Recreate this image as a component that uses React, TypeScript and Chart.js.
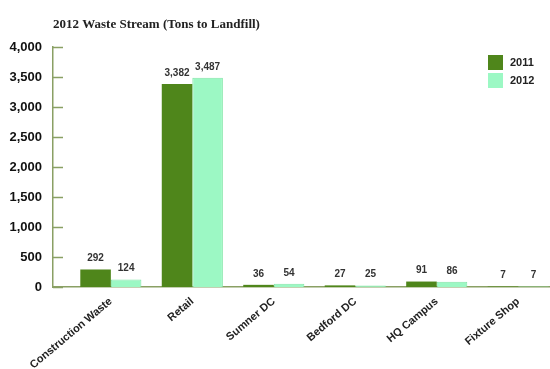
import React, { useEffect, useRef } from "react";
import { Chart, registerables } from "chart.js";

Chart.register(...registerables);

const categories = ["Construction Waste", "Retail", "Sumner DC", "Bedford DC", "HQ Campus", "Fixture Shop"];
const values2011 = [292, 3382, 36, 27, 91, 7];
const values2012 = [124, 3487, 54, 25, 86, 7];
const seriesNames = ["2011", "2012"];
const yTicks = [0, 500, 1000, 1500, 2000, 2500, 3000, 3500, 4000];

const COLOR_2011 = "#4f861b";
const COLOR_2012 = "#9cf8c4";
const AXIS_COLOR = "#8aa064";

const fmt = (v: number) => v.toLocaleString("en-US");

const overlayPlugin = {
  id: "overlay",
  afterDraw(chart: any) {
    const ctx = chart.ctx;
    const area = chart.chartArea;
    const yScale = chart.scales.y;
    ctx.save();
    // inner tick marks on y axis
    ctx.strokeStyle = AXIS_COLOR;
    ctx.lineWidth = 1.5;
    yScale.ticks.forEach((t: any) => {
      const y = Math.round(yScale.getPixelForValue(t.value)) + 0.5;
      ctx.beginPath();
      ctx.moveTo(area.left, y);
      ctx.lineTo(area.left + 10, y);
      ctx.stroke();
    });
    // value labels
    ctx.fillStyle = "#333";
    ctx.font = "bold 10px 'Liberation Sans', Arial, sans-serif";
    ctx.textAlign = "center";
    ctx.textBaseline = "bottom";
    chart.data.datasets.forEach((ds: any, di: number) => {
      const meta = chart.getDatasetMeta(di);
      meta.data.forEach((el: any, i: number) => {
        const v = ds.data[i].y;
        ctx.fillText(fmt(v), el.x, el.y - 6);
      });
    });
    // legend
    const lx = 488;
    let ly = 55;
    ctx.font = "bold 11px 'Liberation Sans', Arial, sans-serif";
    ctx.textAlign = "left";
    ctx.textBaseline = "middle";
    chart.data.datasets.forEach((ds: any) => {
      ctx.fillStyle = ds.backgroundColor;
      ctx.fillRect(lx, ly, 15, 15);
      ctx.fillStyle = "#222";
      ctx.fillText(ds.label, lx + 22, ly + 7.5);
      ly += 18;
    });
    ctx.restore();
  },
};

export default function App() {
  const ref = useRef<HTMLCanvasElement>(null);
  useEffect(() => {
    document.body.style.margin = "0";
    const chart = new Chart(ref.current!, {
      type: "bar",
      data: {
        datasets: [
          {
            label: seriesNames[0],
            data: values2011.map((v, i) => ({ x: i, y: v })),
            backgroundColor: COLOR_2011,
            borderWidth: 0,
            categoryPercentage: 0.75,
            barPercentage: 1,
          },
          {
            label: seriesNames[1],
            data: values2012.map((v, i) => ({ x: i, y: v })),
            backgroundColor: COLOR_2012,
            borderColor: "#82e6a8",
            borderWidth: 1,
            categoryPercentage: 0.75,
            barPercentage: 1,
          },
        ],
      },
      options: {
        animation: false,
        responsive: false,
        maintainAspectRatio: false,
        layout: { padding: { left: 0, right: 0, top: 0, bottom: 0 } },
        plugins: {
          legend: { display: false },
          tooltip: { enabled: false },
          title: {
            display: true,
            text: "2012 Waste Stream (Tons to Landfill)",
            align: "start",
            fullSize: false,
            color: "#222",
            font: { family: "'Liberation Serif', serif", size: 13, weight: "bold" },
            padding: { top: 17, bottom: 14.4 },
          },
        },
        scales: {
          x: {
            type: "linear",
            min: -0.71,
            max: 5.39,
            offset: false,
            afterBuildTicks: (s: any) => {
              s.ticks = categories.map((_, i) => ({ value: i }));
            },
            afterFit: (s: any) => {
              s.height = 82;
            },
            grid: { display: false, drawTicks: false },
            border: { display: true, color: AXIS_COLOR, width: 1.5 },
            ticks: {
              autoSkip: false,
              maxRotation: 40,
              minRotation: 40,
              padding: 8,
              color: "#222",
              font: { family: "'Liberation Sans', Arial, sans-serif", size: 11, weight: "bold" },
              callback: (v: any) => categories[v] ?? "",
            },
          },
          y: {
            min: 0,
            max: 4000,
            afterBuildTicks: (s: any) => {
              s.ticks = yTicks.map((v) => ({ value: v }));
            },
            afterFit: (s: any) => {
              s.width = 53;
            },
            grid: { display: false, drawTicks: false },
            border: { display: true, color: AXIS_COLOR, width: 1.5 },
            ticks: {
              padding: 11,
              color: "#111",
              font: { family: "'Liberation Sans', Arial, sans-serif", size: 13, weight: "bold" },
              callback: (v: any) => fmt(Number(v)),
            },
          },
        },
      },
      plugins: [overlayPlugin],
    });
    return () => chart.destroy();
  }, []);
  return (
    <div style={{ position: "absolute", left: 0, top: 0, width: 550, height: 369, background: "#fff" }}>
      <canvas ref={ref} width={550} height={369} />
    </div>
  );
}
